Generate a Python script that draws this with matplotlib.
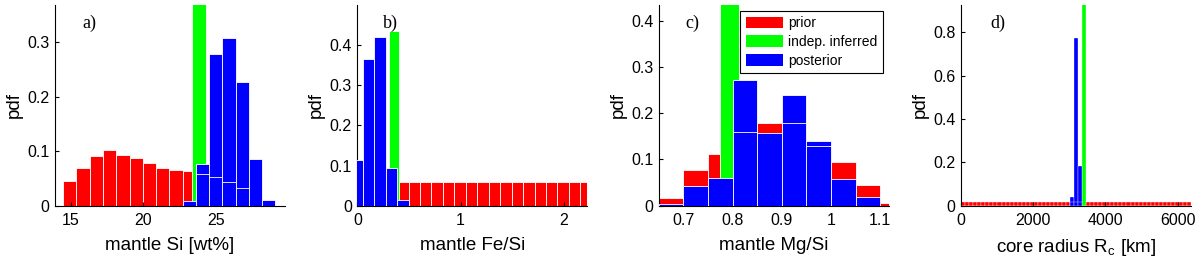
import numpy as np
import matplotlib
matplotlib.use('Agg')
import matplotlib.pyplot as plt
from matplotlib.patches import Patch
from matplotlib.ticker import FormatStrFormatter

plt.rcParams['font.family'] = ['Liberation Sans', 'DejaVu Sans']
plt.rcParams['mathtext.fontset'] = 'custom'
plt.rcParams['mathtext.rm'] = 'Liberation Sans'

RED = '#ff0000'
GREEN = '#00ff00'
BLUE = '#0000ff'

# a) mantle Si [wt%]
si_edges = [14.47, 15.385, 16.30, 17.215, 18.13, 19.045, 19.96, 20.875, 21.79,
            22.705, 23.62, 24.535, 25.45, 26.365, 27.28, 28.195, 29.11]
si_prior = [0.045, 0.070, 0.092, 0.102, 0.093, 0.088, 0.079, 0.070, 0.065,
            0.064, 0.058, 0.053, 0.043, 0.032, 0, 0]
si_post = [0, 0, 0, 0, 0, 0, 0, 0, 0, 0.008, 0.076, 0.279, 0.308, 0.226, 0.086, 0.010]
si_indep = [23.39, 24.31, 0.45]   # left, right, height

# b) mantle Fe/Si
fe_edges = [-0.059, 0.052, 0.163, 0.274, 0.385, 0.496, 0.607, 0.718, 0.829, 0.940, 1.051,
            1.162, 1.273, 1.384, 1.495, 1.606, 1.717, 1.828, 1.939, 2.050, 2.161, 2.272]
fe_prior = [0, 0, 0, 0] + [0.060] * 17
fe_post = [0.115, 0.365, 0.420, 0.094, 0.014] + [0] * 16
fe_indep = [0.311, 0.408, 0.434]

# c) mantle Mg/Si
mg_edges = [0.65, 0.70, 0.75, 0.80, 0.85, 0.90, 0.95, 1.00, 1.05, 1.10, 1.15]
mg_prior = [0.017, 0.077, 0.112, 0.159, 0.179, 0.178, 0.129, 0.095, 0.045, 0.005]
mg_post = [0.003, 0.043, 0.060, 0.272, 0.158, 0.239, 0.140, 0.058, 0.018, 0.0]
mg_indep = [0.774, 0.813, 0.45]

# d) core radius [km], 57 bins between 0 and the planet radius
rc_edges = np.linspace(0, 6371, 58)
rc_prior = np.full(57, 0.0175)
rc_post = np.zeros(57)
rc_post[27:30] = [0.042, 0.773, 0.185]
rc_indep = [3350, 3462, 1.0]


def draw(ax, edges, prior, post, indep, lw=0.6):
    edges = np.asarray(edges, float)
    prior = np.asarray(prior, float)
    post = np.asarray(post, float)
    left = edges[:-1]
    w = np.diff(edges)
    ax.bar(left, prior, w, align='edge', color=RED, edgecolor='white', linewidth=lw, zorder=1)
    ax.bar(indep[0], indep[2], indep[1] - indep[0], align='edge', color=GREEN,
           edgecolor='white', linewidth=lw, zorder=2)
    ax.bar(left, post, w, align='edge', color=BLUE, edgecolor='white', linewidth=lw, zorder=3)
    hid = (post > prior) & (prior > 0)
    ax.hlines(prior[hid], left[hid], (left + w)[hid], color='white', linewidth=lw, zorder=4)


fig = plt.figure(figsize=(12, 2.61), dpi=100)
lefts = [0.0458, 0.2978, 0.5494, 0.8010]
axs = [fig.add_axes([l, 0.2119, 0.1915, 0.769]) for l in lefts]

panels = [
    (si_edges, si_prior, si_post, si_indep, (13.9, 29.76), 0.368, [15, 20, 25],
     [0, 0.1, 0.2, 0.3], 'mantle Si [wt%]', 'a)', 0.12, 0.6),
    (fe_edges, fe_prior, fe_post, fe_indep, (0, 2.227), 0.5, [0, 1, 2],
     [0, 0.1, 0.2, 0.3, 0.4], 'mantle Fe/Si', 'b)', 0.11, 0.6),
    (mg_edges, mg_prior, mg_post, mg_indep, (0.651, 1.118), 0.434, [0.7, 0.8, 0.9, 1, 1.1],
     [0, 0.1, 0.2, 0.3, 0.4], 'mantle Mg/Si', 'c)', 0.112, 0.6),
    (rc_edges, rc_prior, rc_post, rc_indep, (0, 6371), 0.927, [0, 2000, 4000, 6000],
     [0, 0.2, 0.4, 0.6, 0.8], r'core radius R$_\mathregular{c}$ [km]', 'd)', 0.127, 0.25),
]

for ax, (edges, prior, post, indep, xl, ytop, xt, yt, xlabel, tag, tx, lw) in zip(axs, panels):
    draw(ax, edges, prior, post, indep, lw)
    ax.set_xlim(*xl)
    ax.set_ylim(0, ytop)
    ax.set_xticks(xt)
    ax.set_yticks(yt)
    ax.xaxis.set_major_formatter(FormatStrFormatter('%g'))
    ax.yaxis.set_major_formatter(FormatStrFormatter('%g'))
    ax.spines['top'].set_visible(False)
    ax.spines['right'].set_visible(False)
    ax.tick_params(direction='in', length=3, labelsize=11.5)
    ax.tick_params(axis='x', pad=5.5)
    ax.tick_params(axis='y', pad=4)
    ax.set_xlabel(xlabel, fontsize=13.5, labelpad=6.5)
    ax.set_ylabel('pdf', fontsize=13.5, labelpad=3)
    ax.text(tx, 0.91, tag, transform=ax.transAxes, family='Liberation Serif',
            fontsize=13, va='center', zorder=6)

handles = [Patch(facecolor=RED), Patch(facecolor=GREEN), Patch(facecolor=BLUE)]
leg = axs[2].legend(handles, ['prior', 'indep. inferred', 'posterior'], loc='upper right',
                    bbox_to_anchor=(0.974, 0.972), fontsize=10, fancybox=False,
                    edgecolor='black', framealpha=1, handlelength=2.7, handleheight=0.9,
                    borderpad=0.4, labelspacing=0.35, handletextpad=0.35, borderaxespad=0)
leg.get_frame().set_linewidth(0.8)
leg.set_zorder(10)

fig.savefig('out.png', dpi=100)
